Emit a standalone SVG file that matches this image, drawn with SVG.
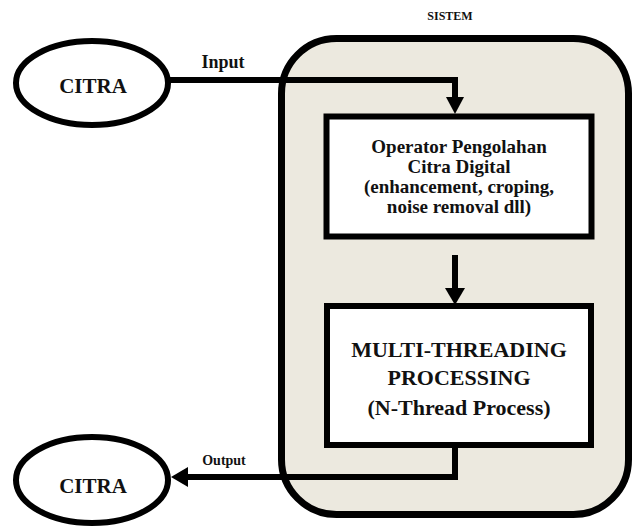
<svg xmlns="http://www.w3.org/2000/svg" width="632" height="529" viewBox="0 0 632 529">
<style>
.t{font-family:"Liberation Serif","Times New Roman",serif;font-weight:bold;fill:#111;text-anchor:middle}
.ln{fill:none;stroke:#000;stroke-width:6}
.box{fill:#fff;stroke:#000;stroke-width:6}
.ell{fill:#fff;stroke:#000;stroke-width:6}
</style>
<rect width="632" height="529" fill="#fff"/>
<g id="sistem">
<rect x="281.5" y="38.5" width="347" height="476" rx="55" ry="55" fill="#ECE9DF" stroke="#000" stroke-width="7"/>
<text class="t" x="450" y="20" font-size="12">SISTEM</text>
</g>
<g id="citra-in">
<ellipse class="ell" cx="92" cy="83" rx="76" ry="42"/>
<text class="t" x="93" y="93" font-size="21">CITRA</text>
</g>
<g id="operator">
<rect class="box" x="326.5" y="116.5" width="265" height="120"/>
<text class="t" x="459" y="153" font-size="19">Operator Pengolahan</text>
<text class="t" x="459" y="173" font-size="19">Citra Digital</text>
<text class="t" x="459" y="193" font-size="19">(enhancement,  croping,</text>
<text class="t" x="459" y="213" font-size="19">noise removal dll)</text>
</g>
<g id="multithreading">
<rect class="box" x="327" y="306" width="264" height="139"/>
<text class="t" x="459" y="357" font-size="22">MULTI-THREADING</text>
<text class="t" x="459" y="385" font-size="22">PROCESSING</text>
<text class="t" x="459" y="415" font-size="22">(N-Thread Process)</text>
</g>
<g id="citra-out">
<ellipse class="ell" cx="92" cy="480" rx="76" ry="43"/>
<text class="t" x="93" y="493" font-size="21">CITRA</text>
</g>
<g id="connectors">
<path class="ln" d="M168 80 H455 V99"/>
<polygon points="446,97 464,97 455,114"/>
<text class="t" x="223" y="68" font-size="18">Input</text>
<path class="ln" d="M455 255 V290"/>
<polygon points="445,288 465,288 455,305"/>
<path class="ln" d="M455 445 V477 H186"/>
<polygon points="171,477 188,467 188,487"/>
<text class="t" x="224" y="465" font-size="14">Output</text>
</g>
</svg>
